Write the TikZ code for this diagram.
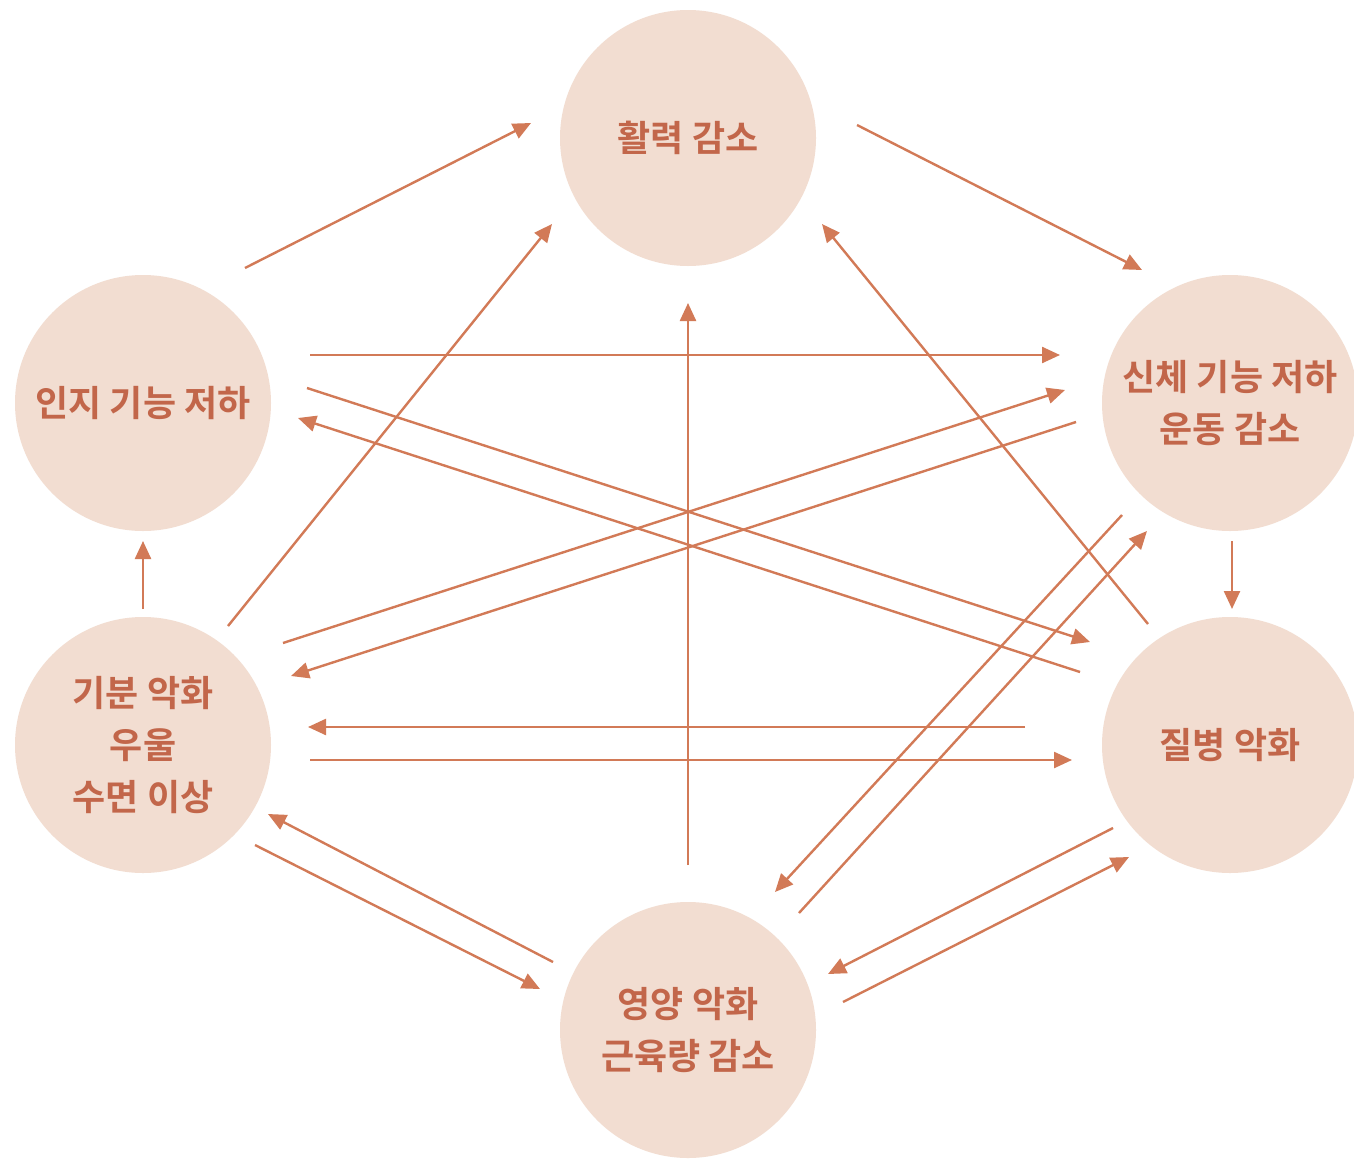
\documentclass[tikz,border=0pt]{standalone}
\usepackage{fontspec}
\newfontfamily\kr{Noto Sans CJK KR}[BoldFont={* Bold}]
\usetikzlibrary{arrows.meta}
\definecolor{circfill}{HTML}{F2DDD1}
\definecolor{txtc}{HTML}{C2664A}
\definecolor{arrc}{HTML}{D27A57}
\tikzset{
  bubble/.style={circle, fill=circfill, minimum size=256pt, inner sep=0pt, align=center,
    text=txtc, font=\kr\bfseries\fontsize{36}{52}\selectfont},
  link/.style={draw=arrc, line width=2.4pt, -{Triangle[length=18pt,width=16pt]}}
}
\begin{document}
\begin{tikzpicture}[x=1pt,y=-1pt]
\useasboundingbox[fill=white] (0,0) rectangle (1354,1159);
\node[bubble] (hwal) at (688,138) {활력 감소};
\node[bubble] (inji) at (143,403) {인지 기능 저하};
\node[bubble] (sinche) at (1230,403) {신체 기능 저하\\운동 감소};
\node[bubble] (gibun) at (143,745) {기분 악화\\우울\\수면 이상};
\node[bubble] (jilbyeong) at (1230,745) {질병 악화};
\node[bubble] (yeongyang) at (688,1030) {영양 악화\\근육량 감소};
% endpoints
\coordinate (a1s) at (245,268);   \coordinate (a1e) at (531,123);
\coordinate (a2s) at (857,125);   \coordinate (a2e) at (1142,270);
\coordinate (a3s) at (310,355);   \coordinate (a3e) at (1060,355);
\coordinate (a4s) at (307,388);   \coordinate (a4e) at (1090,642);
\coordinate (a5s) at (1080,672);  \coordinate (a5e) at (298,418);
\coordinate (a6s) at (228,626);   \coordinate (a6e) at (552,224);
\coordinate (a7s) at (688,865);   \coordinate (a7e) at (688,303);
\coordinate (a8s) at (1148,624);  \coordinate (a8e) at (822,224);
\coordinate (a9s) at (283,643);   \coordinate (a9e) at (1065,390);
\coordinate (a10s) at (1076,422); \coordinate (a10e) at (291,676);
\coordinate (a11s) at (1025,727); \coordinate (a11e) at (308,727);
\coordinate (a12s) at (310,760);  \coordinate (a12e) at (1072,760);
\coordinate (a13s) at (143,609);  \coordinate (a13e) at (143,541);
\coordinate (a14s) at (1232,541); \coordinate (a14e) at (1232,609);
\coordinate (a15s) at (1122,515); \coordinate (a15e) at (775,892);
\coordinate (a16s) at (799,913);  \coordinate (a16e) at (1147,531);
\coordinate (a17s) at (553,962);  \coordinate (a17e) at (268,814);
\coordinate (a18s) at (255,845);  \coordinate (a18e) at (540,989);
\coordinate (a19s) at (1113,828); \coordinate (a19e) at (828,974);
\coordinate (a20s) at (843,1002); \coordinate (a20e) at (1129,857);
\foreach \i in {1,...,20} { \draw[link] (a\i s) -- (a\i e); }
\end{tikzpicture}
\end{document}
